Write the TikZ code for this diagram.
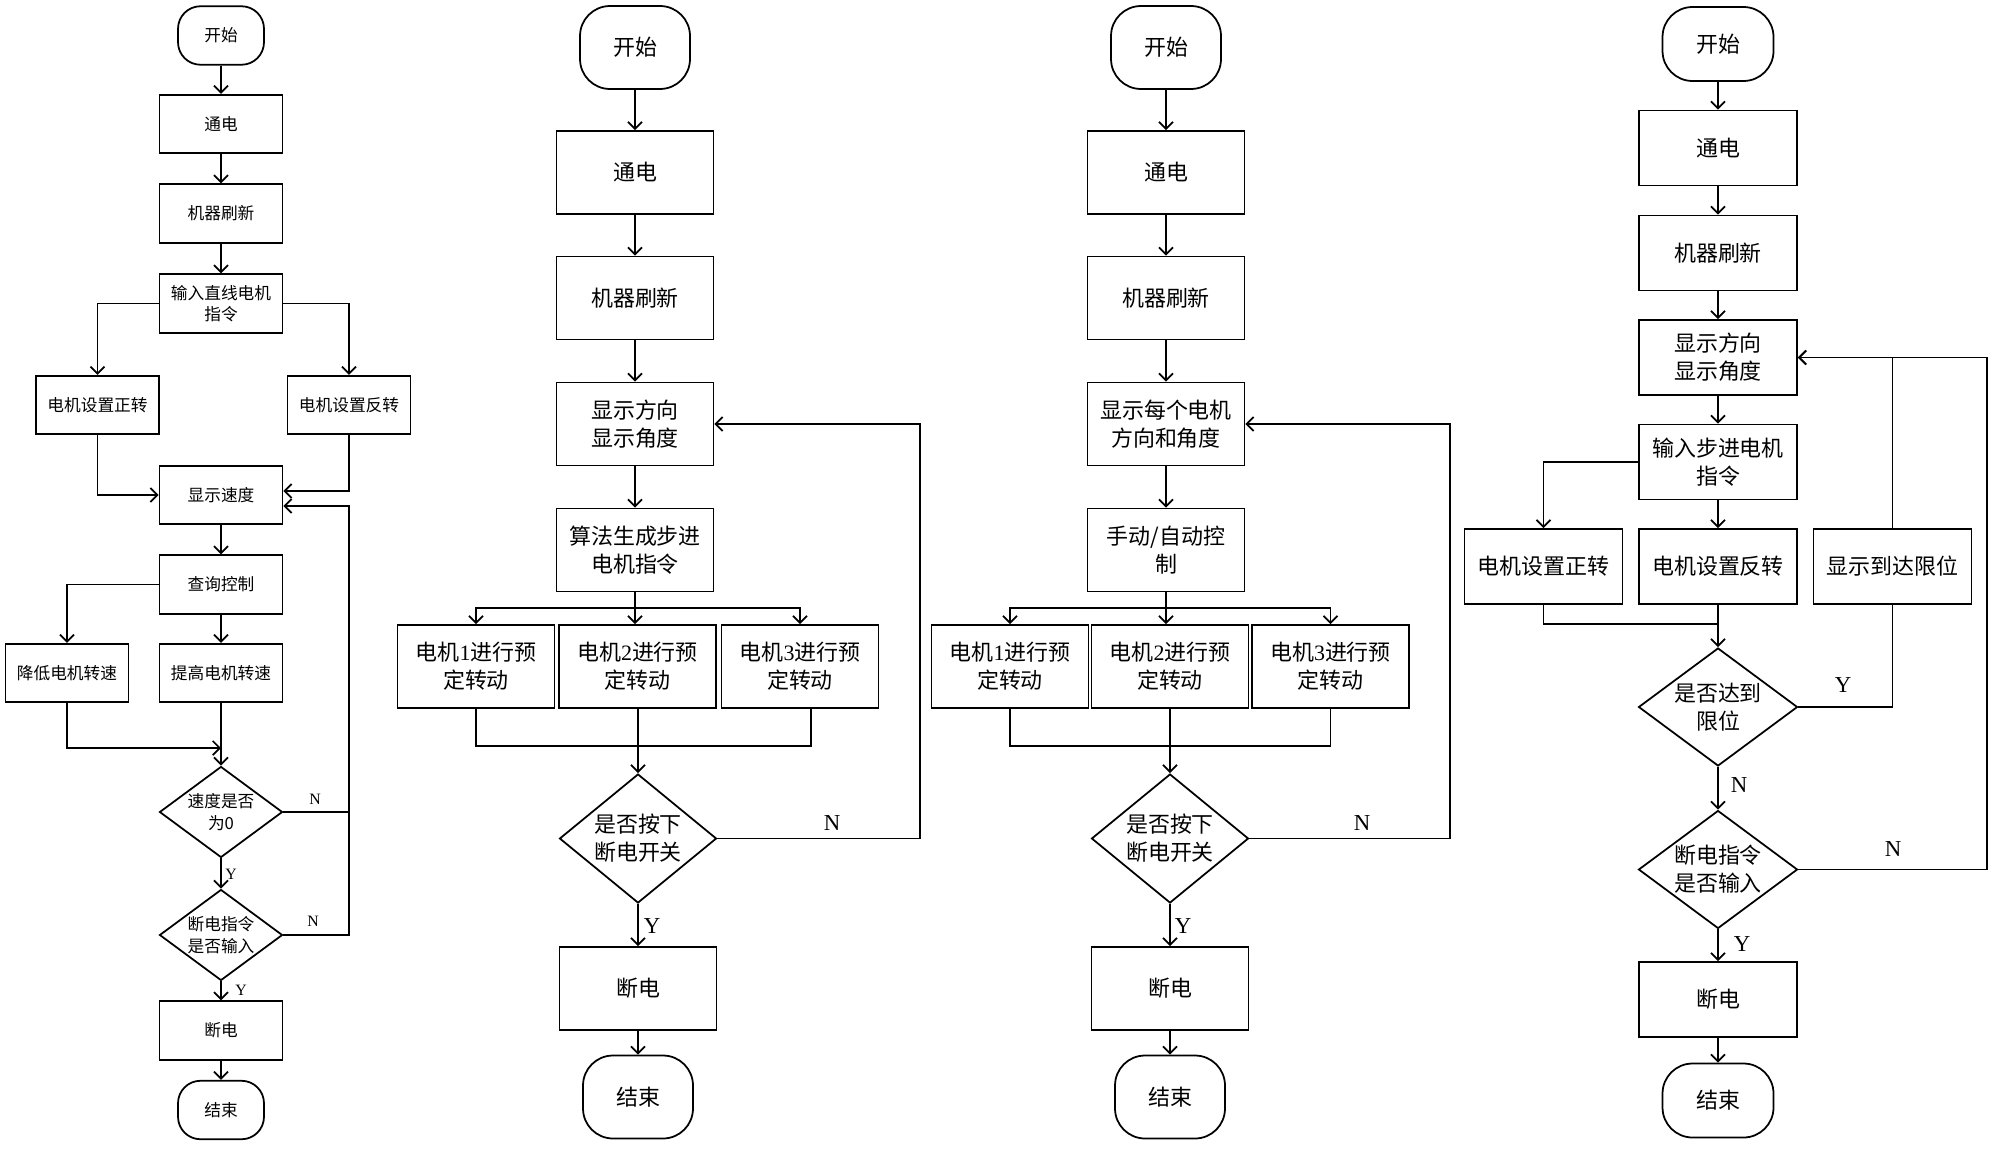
\documentclass[tikz,border=0pt]{standalone}
\usepackage{fontspec}
\setmainfont{Noto Sans CJK SC}
\newfontfamily\lat{Liberation Serif}
\usetikzlibrary{shapes.geometric,arrows.meta}

\begin{document}
\begin{tikzpicture}[x=0.02cm,y=-0.02cm,line width=1pt,
		arr/.style={-{Straight Barb[length=4pt,width=8pt]}},
		pbox/.style={draw,inner sep=0pt,align=center,minimum width=2.46cm,minimum height=1.17cm,font=\fontsize{9.5}{12.2}\selectfont},
		pend/.style={pbox,rounded corners=0.45cm,minimum width=1.72cm},
		pask/.style={pbox,diamond,shape aspect=1.35,minimum height=1.82cm},
		qbox/.style={draw,inner sep=0pt,align=center,minimum width=3.14cm,minimum height=1.66cm,font=\fontsize{12.5}{16}\selectfont},
		qend/.style={qbox,rounded corners=0.6cm,minimum width=2.2cm},
		qask/.style={qbox,diamond,shape aspect=1.22,minimum height=2.58cm},
		rbox/.style={qbox,minimum width=3.16cm,minimum height=1.5cm},
		rend/.style={qend,minimum width=2.22cm,minimum height=1.48cm},
		rask/.style={qask,shape aspect=1.35,minimum width=3.18cm,minimum height=2.36cm},
		plab/.style={font=\lat\fontsize{9}{9}\selectfont},
		qlab/.style={font=\lat\fontsize{13}{13}\selectfont}]
	\useasboundingbox (0,0) rectangle (2000,1149);
	
	\node (a1) at (221,35.5) [pend] {开始};
	\node (a2) at (221,124) [pbox] {通电};
	\node (a3) at (221,213.5) [pbox] {机器刷新};
	\node (a4) at (221,303.5) [pbox] {输入直线电机\\指令};
	\node (a5) at (97.5,405) [pbox] {电机设置正转};
	\node (a6) at (349,405) [pbox] {电机设置反转};
	\node (a7) at (221,495) [pbox] {显示速度};
	\node (a8) at (221,584.5) [pbox] {查询控制};
	\node (a9) at (67,673) [pbox] {降低电机转速};
	\node (a10) at (221,673) [pbox] {提高电机转速};
	\node (a11) at (221,812) [pask] {速度是否\\为0};
	\node (a12) at (221,935) [pask] {断电指令\\是否输入};
	\node (a13) at (221,1030.5) [pbox] {断电};
	\node (a14) at (221,1110) [pend] {结束};
	\coordinate (a15) at (221,748);
	\coordinate (a16) at (349,935);
	\node (a17) at (231,874) [plab] {Y};
	\node (a18) at (241,990) [plab] {Y};
	\node (a19) at (315,799) [plab] {N};
	\node (a20) at (313,921) [plab] {N};
	
	\draw[arr] (a1) -- (a2);
	\draw[arr] (a2) -- (a3);
	\draw[arr] (a3) -- (a4);
	\draw[arr] (a4.west) -| (a5.north);
	\draw[arr] (a4.east) -| (a6.north);
	\draw[arr] (a5.south) |- (a7.west);
	\draw[arr] (a6.south) |- ([yshift=0.08cm]a7.east);
	\draw[arr] (a7) -- (a8);
	\draw[arr] (a8.west) -| (a9.north);
	\draw[arr] (a8) -- (a10);
	\draw[arr] (a9.south) |- (a15);
	\draw[arr] (a10) -- (a11);
	\draw[arr] (a11) -- (a12);
	\draw[arr] (a12) -- (a13);
	\draw[arr] (a13) -- (a14);
	\draw (a11.east) -- (a11.east -| a16);
	\draw[arr] (a12.east) -- (a16) |- ([yshift=-0.22cm]a7.east);
	
	\node (b1) at (635,47.5) [qend] {开始};
	\node (b2) at (635,172.5) [qbox] {通电};
	\node (b3) at (635,298) [qbox] {机器刷新};
	\node (b4) at (635,424) [qbox] {显示方向\\显示角度};
	\node (b5) at (635,550) [qbox] {算法生成步进\\电机指令};
	\node (b6) at (476,666.5) [qbox] {电机{\lat 1}进行预\\定转动};
	\node (b7) at (637.5,666.5) [qbox] {电机{\lat 2}进行预\\定转动};
	\node (b8) at (800,666.5) [qbox] {电机{\lat 3}进行预\\定转动};
	\node (b9) at (638,838.5) [qask] {是否按下\\断电开关};
	\node (b10) at (638,988.5) [qbox] {断电};
	\node (b11) at (638,1097) [qend] {结束};
	\coordinate (b13) at (635,608);
	\coordinate (b14) at (638,746);
	\coordinate (b15) at (920,838.5);
	\node (b16) at (832,823) [qlab] {N};
	\node (b17) at (652,926) [qlab] {Y};
	
	\draw[arr] (b1) -- (b2);
	\draw[arr] (b2) -- (b3);
	\draw[arr] (b3) -- (b4);
	\draw[arr] (b4) -- (b5);
	\draw (b5) -- (b13);
	\draw[arr] (b13) -| (b6.north);
	\draw[arr] (b13) -- (b13 |- b7.north);
	\draw[arr] (b13) -| (b8.north);
	\draw (b6.south) |- (b14) -| ([xshift=0.22cm]b8.south);
	\draw[arr] (b14 |- b7.south) -- (b9);
	\draw[arr] (b9) -- (b10);
	\draw[arr] (b10) -- (b11);
	\draw[arr] (b9.east) -- (b15) |- (b4.east);
	
	\node (c1) at (1166,47.5) [qend] {开始};
	\node (c2) at (1166,172.5) [qbox] {通电};
	\node (c3) at (1166,298) [qbox] {机器刷新};
	\node (c4) at (1166,424) [qbox] {显示每个电机\\方向和角度};
	\node (c5) at (1166,550) [qbox] {手动/自动控\\制};
	\node (c6) at (1010,666.5) [qbox] {电机{\lat 1}进行预\\定转动};
	\node (c7) at (1170,666.5) [qbox] {电机{\lat 2}进行预\\定转动};
	\node (c8) at (1330.5,666.5) [qbox] {电机{\lat 3}进行预\\定转动};
	\node (c9) at (1170,838.5) [qask] {是否按下\\断电开关};
	\node (c10) at (1170,988.5) [qbox] {断电};
	\node (c11) at (1170,1097) [qend] {结束};
	\coordinate (c13) at (1166,608);
	\coordinate (c14) at (1170,746);
	\coordinate (c15) at (1450,838.5);
	\node (c16) at (1362,823) [qlab] {N};
	\node (c17) at (1183,926) [qlab] {Y};
	
	\draw[arr] (c1) -- (c2);
	\draw[arr] (c2) -- (c3);
	\draw[arr] (c3) -- (c4);
	\draw[arr] (c4) -- (c5);
	\draw (c5) -- (c13);
	\draw[arr] (c13) -| (c6.north);
	\draw[arr] (c13) -- (c13 |- c7.north);
	\draw[arr] (c13) -| (c8.north);
	\draw (c6.south) |- (c14) -| (c8.south);
	\draw[arr] (c14 |- c7.south) -- (c9);
	\draw[arr] (c9) -- (c10);
	\draw[arr] (c10) -- (c11);
	\draw[arr] (c9.east) -- (c15) |- (c4.east);
	
	\node (d1) at (1718,44) [rend] {开始};
	\node (d2) at (1718,148) [rbox] {通电};
	\node (d3) at (1718,253) [rbox] {机器刷新};
	\node (d4) at (1718,357.5) [rbox] {显示方向\\显示角度};
	\node (d5) at (1718,462) [rbox] {输入步进电机\\指令};
	\node (d6) at (1543.5,566.5) [rbox] {电机设置正转};
	\node (d7) at (1718,566.5) [rbox] {电机设置反转};
	\node (d8) at (1892.5,566.5) [rbox] {显示到达限位};
	\node (d9) at (1718,707) [rask] {是否达到\\限位};
	\node (d10) at (1718,869.5) [rask] {断电指令\\是否输入};
	\node (d11) at (1718,999.5) [rbox] {断电};
	\node (d12) at (1718,1100.5) [rend] {结束};
	\coordinate (d13) at (1718,624);
	\coordinate (d14) at (1987,869.5);
	\node (d15) at (1843,685) [qlab] {Y};
	\node (d16) at (1739,785) [qlab] {N};
	\node (d17) at (1893,849) [qlab] {N};
	\node (d18) at (1742,944) [qlab] {Y};
	
	\draw[arr] (d1) -- (d2);
	\draw[arr] (d2) -- (d3);
	\draw[arr] (d3) -- (d4);
	\draw[arr] (d4) -- (d5);
	\draw[arr] (d5.west) -| (d6.north);
	\draw[arr] (d5) -- (d7);
	\draw (d6.south) |- (d13);
	\draw[arr] (d7) -- (d9);
	\draw (d9.east) -| (d8.south);
	\draw[arr] (d8.north) |- (d4.east);
	\draw[arr] (d9) -- (d10);
	\draw[arr] (d10) -- (d11);
	\draw[arr] (d11) -- (d12);
	\draw[arr] (d10.east) -- (d14) |- (d4.east);
\end{tikzpicture}
\end{document}
